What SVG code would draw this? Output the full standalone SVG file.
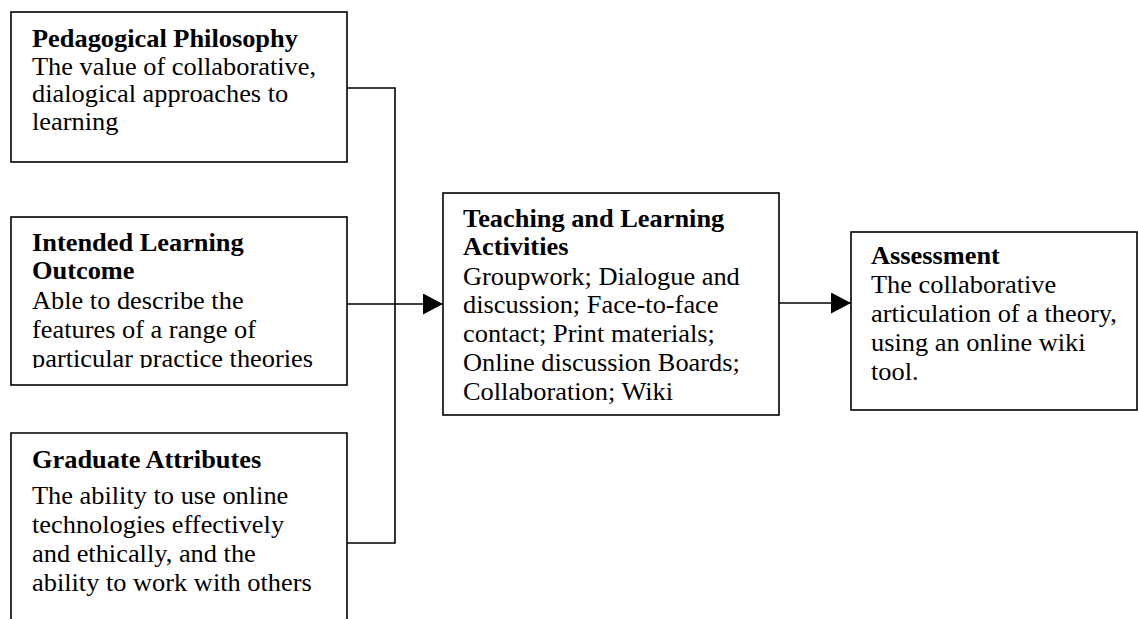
<svg xmlns="http://www.w3.org/2000/svg" width="1138" height="619" viewBox="0 0 1138 619">
<style>
.box{fill:#fff;stroke:#000;stroke-width:1.6}
.ln{fill:none;stroke:#000;stroke-width:1.6}
text{font-family:"Liberation Serif","Times New Roman",serif;font-size:25px;fill:#000}
.b{font-weight:bold}
</style>
<defs>
<marker id="ah" markerWidth="20" markerHeight="21" refX="20" refY="10.5" orient="auto" markerUnits="userSpaceOnUse">
<path d="M0,0 L20,10.5 L0,21 Z" fill="#000"/>
</marker>
<clipPath id="c2"><rect x="11" y="217" width="336" height="151"/></clipPath>
</defs>
<g id="connectors">
<path class="ln" d="M347,88 H395 V543 H347"/>
<path class="ln" d="M347,304 H443" marker-end="url(#ah)"/>
<path class="ln" d="M779,303 H851" marker-end="url(#ah)"/>
</g>
<g id="pedagogical">
<rect class="box" x="11" y="12" width="336" height="150"/>
<text transform="matrix(1.055 0 0 1 32 0)"><tspan class="b" x="0" y="47">Pedagogical Philosophy</tspan><tspan x="0" y="75">The value of collaborative,</tspan><tspan x="0" y="102">dialogical approaches to</tspan><tspan x="0" y="130">learning</tspan></text>
</g>
<g id="outcome">
<rect class="box" x="11" y="217" width="336" height="168"/>
<g clip-path="url(#c2)">
<text transform="matrix(1.055 0 0 1 32 0)"><tspan class="b" x="0" y="251">Intended Learning</tspan><tspan class="b" x="0" y="279">Outcome</tspan><tspan x="0" y="309">Able to describe the</tspan><tspan x="0" y="338">features of a range of</tspan><tspan x="0" y="367">particular practice theories</tspan></text>
</g>
</g>
<g id="graduate">
<path class="ln" d="M11,625 V433 H347 V625"/>
<text transform="matrix(1.055 0 0 1 32 0)"><tspan class="b" x="0" y="468">Graduate Attributes</tspan><tspan x="0" y="504">The ability to use online</tspan><tspan x="0" y="533">technologies effectively</tspan><tspan x="0" y="562">and ethically, and the</tspan><tspan x="0" y="591">ability to work with others</tspan></text>
</g>
<g id="teaching">
<rect class="box" x="443" y="193" width="336" height="222"/>
<text transform="matrix(1.055 0 0 1 463 0)"><tspan class="b" x="0" y="227">Teaching and Learning</tspan><tspan class="b" x="0" y="255">Activities</tspan><tspan x="0" y="285">Groupwork; Dialogue and</tspan><tspan x="0" y="313">discussion; Face-to-face</tspan><tspan x="0" y="342">contact; Print materials;</tspan><tspan x="0" y="371">Online discussion Boards;</tspan><tspan x="0" y="400">Collaboration; Wiki</tspan></text>
</g>
<g id="assessment">
<rect class="box" x="851" y="232" width="286" height="178"/>
<text transform="matrix(1.055 0 0 1 871 0)"><tspan class="b" x="0" y="264">Assessment</tspan><tspan x="0" y="293">The collaborative</tspan><tspan x="0" y="322">articulation of a theory,</tspan><tspan x="0" y="351">using an online wiki</tspan><tspan x="0" y="380">tool.</tspan></text>
</g>
</svg>
